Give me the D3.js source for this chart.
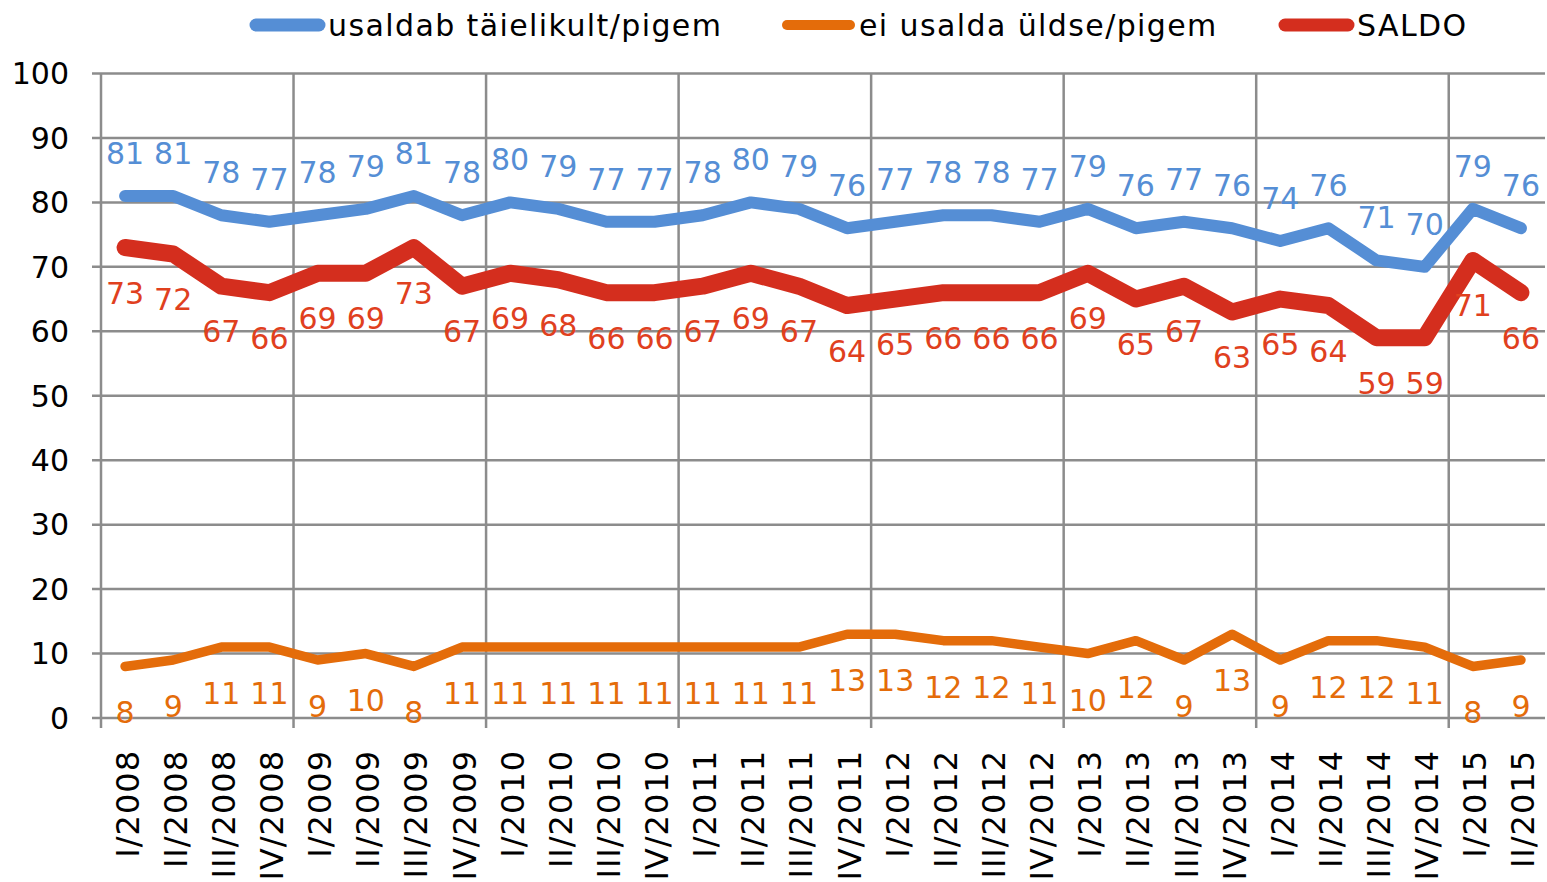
<!DOCTYPE html>
<html>
<head>
<meta charset="utf-8">
<script src="https://cdn.jsdelivr.net/npm/d3@7/dist/d3.min.js"></script>
<style>
  html, body { margin: 0; padding: 0; background: #fff; }
  svg { display: block; }
  text { font-family: "DejaVu Sans", Verdana, sans-serif; }
</style>
</head>
<body>
<svg id="chart" width="1547" height="882"></svg>
<script>
const categories = ["I/2008","II/2008","III/2008","IV/2008","I/2009","II/2009","III/2009","IV/2009",
  "I/2010","II/2010","III/2010","IV/2010","I/2011","II/2011","III/2011","IV/2011",
  "I/2012","II/2012","III/2012","IV/2012","I/2013","II/2013","III/2013","IV/2013",
  "I/2014","II/2014","III/2014","IV/2014","I/2015","II/2015"];
const trust = [81,81,78,77,78,79,81,78,80,79,77,77,78,80,79,76,77,78,78,77,79,76,77,76,74,76,71,70,79,76];
const distrust = [8,9,11,11,9,10,8,11,11,11,11,11,11,11,11,13,13,12,12,11,10,12,9,13,9,12,12,11,8,9];
const saldo = [73,72,67,66,69,69,73,67,69,68,66,66,67,69,67,64,65,66,66,66,69,65,67,63,65,64,59,59,71,66];
const yTicks = [0,10,20,30,40,50,60,70,80,90,100];
const seriesNames = ["usaldab täielikult/pigem","ei usalda üldse/pigem","SALDO"];

(function () {
const svg = d3.select("#chart");
const pLeft = 101, pRight = 1545, pTop = 73.5, pBottom = 718;

const x = d3.scaleBand().domain(categories).range([pLeft, pRight]).padding(0);
const y = d3.scaleLinear().domain([0, 100]).range([pBottom, pTop]);
const cx = c => x(c) + x.bandwidth() / 2;

const grid = "#8c8c8c";

svg.append("g").selectAll("line").data(yTicks).join("line")
  .attr("x1", pLeft - 9).attr("x2", pRight)
  .attr("y1", d => y(d)).attr("y2", d => y(d))
  .attr("stroke", grid).attr("stroke-width", 2.5);

const vIdx = d3.range(0, categories.length, 4);
svg.append("g").selectAll("line").data(vIdx).join("line")
  .attr("x1", d => x(categories[d])).attr("x2", d => x(categories[d]))
  .attr("y1", pTop).attr("y2", pBottom + 10)
  .attr("stroke", grid).attr("stroke-width", 2.5);

svg.append("g").selectAll("text").data(yTicks).join("text")
  .attr("x", 69).attr("y", d => y(d))
  .attr("dy", "0.36em")
  .attr("text-anchor", "end")
  .attr("font-size", 30).attr("fill", "#000")
  .text(d => d);

svg.append("g").selectAll("text").data(categories).join("text")
  .attr("transform", d => `translate(${cx(d) + 13.5},750) rotate(-90)`)
  .attr("text-anchor", "end")
  .attr("font-size", 32).attr("letter-spacing", 1)
  .attr("fill", "#000")
  .text(d => d);

const colors = { trust: "#558ed5", distrust: "#e46c0a", saldo: "#d42e1e" };
const labelColors = { trust: "#558ed5", distrust: "#e46c0a", saldo: "#e0401e" };

const line = d3.line().x((d, i) => cx(categories[i])).y(d => y(d));

function drawSeries(data, color, width) {
  svg.append("path").datum(data)
    .attr("d", line)
    .attr("fill", "none").attr("stroke", color)
    .attr("stroke-width", width)
    .attr("stroke-linejoin", "round").attr("stroke-linecap", "round");
}
drawSeries(trust, colors.trust, 12);
drawSeries(distrust, colors.distrust, 9.5);
drawSeries(saldo, colors.saldo, 17);

function drawLabels(data, color, offset) {
  svg.append("g").selectAll("text").data(data).join("text")
    .attr("x", (d, i) => cx(categories[i]))
    .attr("y", d => y(d) + offset)
    .attr("text-anchor", "middle")
    .attr("font-size", 30).attr("fill", color)
    .text(d => d);
}
drawLabels(trust, labelColors.trust, -32);
drawLabels(saldo, labelColors.saldo, 56);
drawLabels(distrust, labelColors.distrust, 57);

const legendItems = [
  { name: seriesNames[0], color: colors.trust, x1: 256, w: 13 },
  { name: seriesNames[1], color: colors.distrust, x1: 787, w: 10 },
  { name: seriesNames[2], color: colors.saldo, x1: 1285, w: 13 }
];
const lg = svg.append("g");
legendItems.forEach(it => {
  lg.append("line")
    .attr("x1", it.x1).attr("x2", it.x1 + 63)
    .attr("y1", 25).attr("y2", 25)
    .attr("stroke", it.color).attr("stroke-width", it.w)
    .attr("stroke-linecap", "round");
  lg.append("text")
    .attr("x", it.x1 + 72).attr("y", 25).attr("dy", "0.36em")
    .attr("font-size", 30).attr("letter-spacing", 1.4).attr("fill", "#000")
    .text(it.name);
});
})();
</script>
</body>
</html>
